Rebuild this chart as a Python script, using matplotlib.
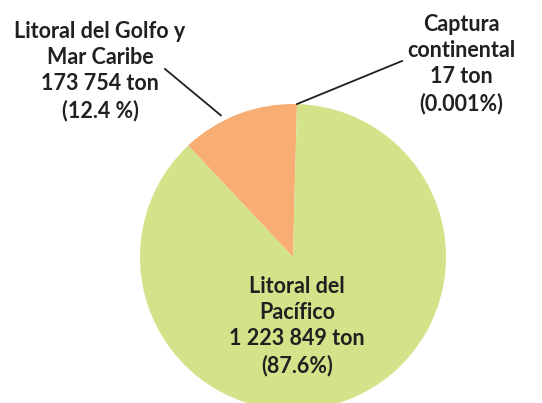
import numpy as np
import matplotlib
matplotlib.use("Agg")
import matplotlib.pyplot as plt

# datos: producción pesquera por litoral
regiones = ["Captura continental", "Litoral del Golfo y Mar Caribe", "Litoral del Pacífico"]
toneladas = [17, 173754, 1223849]
porcentajes = ["0.001%", "12.4 %", "87.6%"]
colores = ["#f8ad72", "#f8ad72", "#d4e289"]

etiquetas = [
    "Captura\ncontinental\n17 ton\n(" + porcentajes[0] + ")",
    "Litoral del Golfo y\nMar Caribe\n173 754 ton\n(" + porcentajes[1] + ")",
    "Litoral del\nPacífico\n1 223 849 ton\n(" + porcentajes[2] + ")",
]

plt.rcParams['font.family'] = ['Lato', 'DejaVu Sans']

fig = plt.figure(figsize=(5.42, 4.03), dpi=100)
ax = fig.add_axes([0, 0, 1, 1])

cx, cy, r = 293, 146, 153
wedges, _ = ax.pie(toneladas, colors=colores, startangle=88.5, counterclock=True,
                   center=(cx, cy), radius=r, frame=True,
                   wedgeprops=dict(linewidth=0))
ax.set_xlim(0, 542)
ax.set_ylim(0, 403)
ax.set_aspect('equal')
ax.axis('off')

texto = dict(fontsize=15.5, fontweight='bold', color='#231f20', ha='center',
             va='center', linespacing=1.3)

ax.text(100, 403 - 71, etiquetas[1], **texto)
ax.text(461, 403 - 64, etiquetas[0], **texto)
ax.text(297, 403 - 326, etiquetas[2], **texto)

# líneas guía
a = np.deg2rad(117)
ax.plot([165, cx + 159 * np.cos(a)], [403 - 69, cy + 159 * np.sin(a)],
        color='#231f20', lw=1.3)
a = np.deg2rad(wedges[0].theta1)
ax.plot([402, cx + r * np.cos(a)], [403 - 61, cy + r * np.sin(a)],
        color='#231f20', lw=1.3)

fig.savefig("out.png", dpi=100)
